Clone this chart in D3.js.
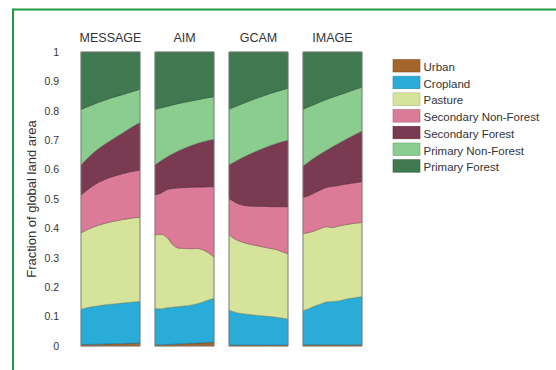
<!DOCTYPE html>
<html>
<head>
<meta charset="utf-8">
<script src="https://cdn.jsdelivr.net/npm/d3@7"></script>
<style>
  html, body { margin: 0; padding: 0; background: #ffffff; }
  svg { display: block; }
  text { font-family: "Liberation Sans", Arial, Helvetica, sans-serif; fill: #333; }
</style>
</head>
<body>
<svg id="chart" width="556" height="370"></svg>
<script>
// ---------------- data ----------------
const years = [2000, 2010, 2020, 2030, 2040, 2050, 2060, 2070, 2080, 2090, 2100];
const models = ["MESSAGE", "AIM", "GCAM", "IMAGE"];
const categories = ["Urban", "Cropland", "Pasture", "Secondary Non-Forest", "Secondary Forest", "Primary Non-Forest", "Primary Forest"];
const colors = ["#a4652b", "#2aacd8", "#d5e39b", "#db7b98", "#7a3b52", "#8bcd8e", "#40794f"];
const yTickValues = [0, 0.1, 0.2, 0.3, 0.4, 0.5, 0.6, 0.7, 0.8, 0.9, 1];
const yTickLabels = ["0", "0.1", "0.2", "0.3", "0.4", "0.5", "0.6", "0.7", "0.8", "0.9", "1"];
const yLabel = "Fraction of global land area";

// fractions of global land area per land-use type (one array per model and type)
const messageUrban    = [0.005,0.005,0.006,0.006,0.007,0.007,0.008,0.008,0.009,0.009,0.010];
const messageCrop     = [0.120,0.125,0.128,0.131,0.133,0.135,0.136,0.138,0.139,0.141,0.141];
const messagePasture  = [0.260,0.265,0.270,0.274,0.277,0.280,0.282,0.284,0.285,0.286,0.287];
const messageSecNF    = [0.129,0.135,0.141,0.146,0.149,0.152,0.154,0.156,0.158,0.159,0.161];
const messageSecF     = [0.102,0.107,0.111,0.115,0.120,0.125,0.132,0.138,0.146,0.154,0.161];
const messagePrimNF   = [0.189,0.176,0.165,0.157,0.150,0.144,0.137,0.131,0.124,0.118,0.113];
const messagePrimF    = [0.195,0.187,0.179,0.171,0.164,0.157,0.151,0.145,0.139,0.133,0.127];

const aimUrban        = [0.004,0.004,0.005,0.006,0.007,0.008,0.009,0.010,0.011,0.012,0.014];
const aimCrop         = [0.124,0.122,0.125,0.126,0.127,0.128,0.130,0.133,0.138,0.144,0.148];
const aimPasture      = [0.250,0.254,0.240,0.213,0.199,0.196,0.192,0.189,0.179,0.162,0.140];
const aimSecNF        = [0.136,0.140,0.162,0.191,0.205,0.207,0.209,0.209,0.213,0.224,0.240];
const aimSecF         = [0.102,0.110,0.111,0.118,0.126,0.134,0.141,0.147,0.153,0.157,0.161];
const aimPrimNF       = [0.189,0.180,0.172,0.166,0.161,0.156,0.152,0.149,0.147,0.146,0.145];
const aimPrimF        = [0.195,0.190,0.185,0.180,0.175,0.171,0.167,0.163,0.159,0.155,0.152];

const gcamUrban       = [0.003,0.003,0.003,0.003,0.003,0.003,0.003,0.003,0.003,0.003,0.003];
const gcamCrop        = [0.119,0.112,0.108,0.105,0.103,0.101,0.099,0.097,0.095,0.092,0.088];
const gcamPasture     = [0.256,0.249,0.244,0.241,0.238,0.236,0.234,0.232,0.230,0.226,0.222];
const gcamSecNF       = [0.124,0.126,0.126,0.128,0.132,0.135,0.139,0.142,0.146,0.153,0.161];
const gcamSecF        = [0.114,0.137,0.157,0.171,0.181,0.191,0.199,0.208,0.215,0.221,0.226];
const gcamPrimNF      = [0.189,0.187,0.184,0.182,0.181,0.179,0.178,0.177,0.176,0.176,0.177];
const gcamPrimF       = [0.195,0.186,0.178,0.170,0.162,0.155,0.148,0.141,0.135,0.129,0.123];

const imageUrban      = [0.004,0.004,0.004,0.004,0.004,0.004,0.004,0.004,0.004,0.004,0.004];
const imageCrop       = [0.116,0.123,0.132,0.139,0.146,0.147,0.149,0.154,0.158,0.161,0.164];
const imagePasture    = [0.263,0.259,0.256,0.257,0.256,0.252,0.255,0.254,0.253,0.253,0.252];
const imageSecNF      = [0.123,0.126,0.130,0.131,0.134,0.140,0.138,0.138,0.138,0.138,0.139];
const imageSecF       = [0.106,0.115,0.119,0.123,0.126,0.135,0.143,0.150,0.158,0.165,0.172];
const imagePrimNF     = [0.193,0.187,0.181,0.177,0.173,0.168,0.164,0.160,0.156,0.153,0.149];
const imagePrimF      = [0.195,0.186,0.178,0.169,0.161,0.154,0.147,0.140,0.133,0.126,0.120];

const modelSeries = {
  MESSAGE: [messageUrban, messageCrop, messagePasture, messageSecNF, messageSecF, messagePrimNF, messagePrimF],
  AIM:     [aimUrban, aimCrop, aimPasture, aimSecNF, aimSecF, aimPrimNF, aimPrimF],
  GCAM:    [gcamUrban, gcamCrop, gcamPasture, gcamSecNF, gcamSecF, gcamPrimNF, gcamPrimF],
  IMAGE:   [imageUrban, imageCrop, imagePasture, imageSecNF, imageSecF, imagePrimNF, imagePrimF]
};

// ---------------- layout ----------------
const svg = d3.select("#chart");

// green frame
svg.append("rect")
  .attr("x", 13).attr("y", 9.5)
  .attr("width", 560).attr("height", 380)
  .attr("fill", "none")
  .attr("stroke", "#1f9a3e")
  .attr("stroke-width", 2);

const plotTop = 52, plotBottom = 346;
const panelW = 59, panelGap = 15, firstX = 81;

const y = d3.scaleLinear().domain([0, 1]).range([plotBottom, plotTop]);
const panelX = d3.scaleBand().domain(models)
  .range([firstX, firstX + models.length * panelW + (models.length - 1) * panelGap])
  .paddingInner(panelGap / (panelW + panelGap));

// y axis (labels only)
const yAxis = d3.axisLeft(y)
  .tickValues(yTickValues)
  .tickFormat((d, i) => yTickLabels[i])
  .tickSize(0)
  .tickPadding(0);
const gy = svg.append("g").attr("transform", "translate(59,0)").call(yAxis);
gy.select(".domain").remove();
gy.selectAll("text")
  .attr("font-size", "10.5px")
  .attr("fill", "#333")
  .attr("font-family", "'Liberation Sans', Arial, sans-serif");

svg.append("text")
  .attr("transform", `translate(36,${(plotTop + plotBottom) / 2}) rotate(-90)`)
  .attr("text-anchor", "middle")
  .attr("font-size", "13px")
  .text(yLabel);

// panels
models.forEach(m => {
  const x0 = panelX(m);
  const x = d3.scaleLinear().domain(d3.extent(years)).range([x0, x0 + panelX.bandwidth()]);
  const rows = years.map((yr, i) => {
    const r = { year: yr };
    categories.forEach((c, k) => { r[c] = modelSeries[m][k][i]; });
    return r;
  });
  const stacked = d3.stack().keys(categories)(rows);
  const area = d3.area()
    .x(d => x(d.data.year))
    .y0(d => y(d[0]))
    .y1(d => y(d[1]))
    .curve(d3.curveMonotoneX);

  const g = svg.append("g");
  g.selectAll("path")
    .data(stacked)
    .join("path")
    .attr("d", area)
    .attr("fill", (d, i) => colors[i])
    .attr("stroke", (d, i) => d3.color(colors[i]).darker(1.2))
    .attr("stroke-width", 0.6);

  g.append("rect")
    .attr("x", x0).attr("y", plotTop)
    .attr("width", panelX.bandwidth()).attr("height", plotBottom - plotTop)
    .attr("fill", "none")
    .attr("stroke", "#8a8a8a")
    .attr("stroke-width", 0.8);

  svg.append("text")
    .attr("x", x0 + panelX.bandwidth() / 2)
    .attr("y", 41.5)
    .attr("text-anchor", "middle")
    .attr("font-size", "12.5px")
    .attr("fill", "#222")
    .text(m);
});

// legend
const legend = svg.append("g").attr("transform", "translate(393,59.5)");
const item = legend.selectAll("g")
  .data(categories)
  .join("g")
  .attr("transform", (d, i) => `translate(0,${i * 16.7})`);
item.append("rect")
  .attr("width", 27).attr("height", 12.5)
  .attr("fill", (d, i) => colors[i])
  .attr("stroke", (d, i) => d3.color(colors[i]).darker(0.6))
  .attr("stroke-width", 0.6);
item.append("text")
  .attr("x", 30.5).attr("y", 11.5)
  .attr("font-size", "11.5px")
  .attr("fill", "#333")
  .text(d => d);
</script>
</body>
</html>
